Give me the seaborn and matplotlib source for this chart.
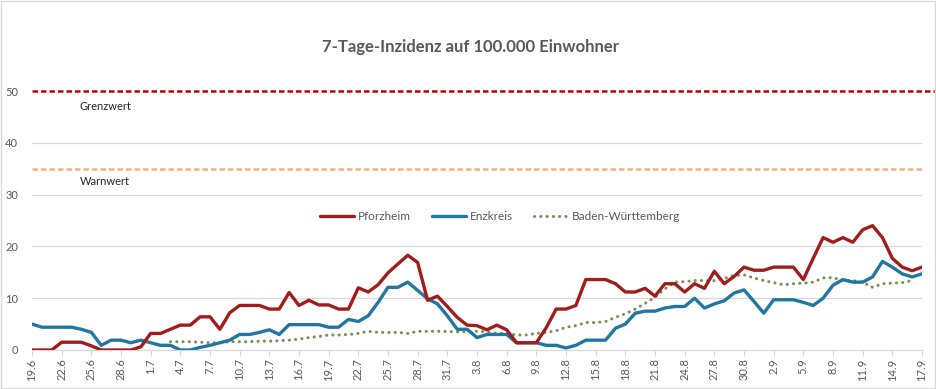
import numpy as np
import pandas as pd
import matplotlib
matplotlib.use("Agg")
import matplotlib.pyplot as plt
import seaborn as sns

tick_labels = ["19.6", "22.6", "25.6", "28.6", "1.7", "4.7", "7.7", "10.7", "13.7",
               "16.7", "19.7", "22.7", "25.7", "28.7", "31.7", "3.8", "6.8", "9.8",
               "12.8", "15.8", "18.8", "21.8", "24.8", "27.8", "30.8", "2.9", "5.9",
               "8.9", "11.9", "14.9", "17.9"]

pforzheim = [0, 0, 0, 1.5, 1.5, 1.5, 0.8, 0, 0, 0, 0, 0.6, 3.2, 3.2, 4.0, 4.8, 4.8, 6.4, 6.4, 4.0,
             7.2, 8.6, 8.6, 8.6, 7.9, 7.9, 11.1, 8.6, 9.6, 8.7, 8.7, 7.9, 7.9, 12.0, 11.2, 12.6,
             14.9, 16.6, 18.3, 16.9, 9.6, 10.4, 8.4, 6.3, 4.8, 4.7, 3.9, 4.8, 3.9, 1.4, 1.4, 1.4,
             4.3, 7.9, 7.9, 8.6, 13.6, 13.6, 13.6, 12.8, 11.2, 11.2, 11.9, 10.4, 12.8, 12.8, 11.2,
             12.8, 11.9, 15.2, 12.8, 14.2, 16.0, 15.4, 15.4, 16.0, 16.0, 16.0, 13.6, 17.7, 21.7,
             20.8, 21.7, 20.8, 23.2, 24.0, 21.7, 17.7, 16.0, 15.3, 16.0]

enzkreis = [5.0, 4.4, 4.4, 4.4, 4.4, 4.0, 3.4, 0.9, 1.9, 1.9, 1.4, 1.9, 1.4, 0.9, 0.9, 0, 0, 0.5,
            0.9, 1.4, 1.9, 3.0, 3.0, 3.4, 3.9, 3.0, 4.9, 4.9, 4.9, 4.9, 4.4, 4.4, 5.9, 5.5, 6.6,
            9.2, 12.1, 12.1, 13.1, 11.5, 9.9, 8.9, 6.6, 4.0, 4.0, 2.4, 3.0, 3.0, 3.0, 1.4, 1.4,
            1.4, 0.9, 0.9, 0.4, 0.9, 1.9, 1.9, 1.9, 4.2, 5.0, 7.1, 7.5, 7.5, 8.1, 8.4, 8.4, 10.0,
            8.1, 8.9, 9.5, 11.0, 11.6, 9.4, 7.1, 9.7, 9.7, 9.7, 9.2, 8.6, 10.0, 12.5, 13.6, 13.1,
            13.1, 14.1, 17.1, 16.0, 14.7, 14.1, 14.7]

nan = np.nan
baden_wuerttemberg = [nan] * 14 + [
    1.6, 1.6, 1.6, 1.5, 1.4, 1.4, 1.6, 1.6, 1.6, 1.7, 1.7, 1.8, 1.9, 2.1, 2.4, 2.6, 2.9, 2.9,
    3.0, 3.2, 3.6, 3.4, 3.4, 3.4, 3.2, 3.6, 3.6, 3.6, 3.6, 3.5, 3.5, 3.6, 3.5, 3.2, 3.2, 2.9,
    2.9, 3.2, 3.4, 3.7, 4.4, 4.7, 5.3, 5.3, 5.5, 6.3, 7.0, 7.9, 9.0, 10.2, 11.8, 13.1, 13.2,
    13.4, 13.4, 13.4, 13.8, 14.4, 14.5, 13.9, 13.4, 13.0, 12.6, 12.8, 12.9, 13.1, 13.9, 14.0,
    13.4, 13.4, 13.1, 12.1, 12.8, 12.9, 13.0, 13.4] + [nan]

grenzwert = 50
warnwert = 35

days = np.arange(len(pforzheim))
df = pd.DataFrame({"day": days, "Pforzheim": pforzheim, "Enzkreis": enzkreis,
                   "Baden-Württemberg": baden_wuerttemberg})

sns.set_theme(style="white")
plt.rcParams["font.family"] = ["Lato", "DejaVu Sans"]

fig = plt.figure(figsize=(9.37, 3.89), dpi=100)
ax = fig.add_axes([32 / 937, 1 - 350 / 389, 890 / 937, (350 - 91) / 389])

gray_text = "#595959"
grid_c = "#D9D9D9"

for y in [10, 20, 30, 40]:
    ax.axhline(y, color=grid_c, lw=0.9, zorder=0)

ax.hlines(grenzwert, 0, len(days) - 1 + 1.5, color="#C00000", lw=1.8, ls=(0, (2.2, 1.2)),
          zorder=1, clip_on=False)
ax.axhline(warnwert, color="#F4B183", lw=1.8, ls=(0, (2.2, 1.2)), zorder=1)

sns.lineplot(data=df, x="day", y="Pforzheim", ax=ax, color="#A11D1D", lw=2.4,
             label="Pforzheim", zorder=4)
sns.lineplot(data=df, x="day", y="Enzkreis", ax=ax, color="#2176A3", lw=2.4,
             label="Enzkreis", zorder=3)
sns.lineplot(data=df, x="day", y="Baden-Württemberg", ax=ax, color="#7D8F55", lw=2.2,
             label="Baden-Württemberg", zorder=2, ls=(0, (0.05, 2.0)),
             dash_capstyle="round")

ax.set_xlim(0, len(days) - 1)
ax.set_ylim(0, 50)
ax.set_xticks(days[::3])
ax.set_xticklabels(tick_labels, rotation=90, fontsize=8, color=gray_text)
ax.set_yticks([0, 10, 20, 30, 40, 50])
ax.set_yticklabels(["0", "10", "20", "30", "40", "50"], fontsize=8, color=gray_text)
ax.tick_params(axis="y", length=0, pad=10)
ax.tick_params(axis="x", length=4, width=0.8, color=grid_c, pad=2, direction="out", bottom=True)
ax.set_xlabel("")
ax.set_ylabel("")
for s in ["top", "right", "left"]:
    ax.spines[s].set_visible(False)
ax.spines["bottom"].set_color(grid_c)
ax.spines["bottom"].set_linewidth(0.9)

ax.text(4.85, 47.1, "Grenzwert", fontsize=8, color="#262626", va="center", ha="left")
ax.text(4.85, 32.6, "Warnwert", fontsize=8, color="#262626", va="center", ha="left")

leg = ax.legend(loc="center", bbox_to_anchor=(0.526, 0.515), ncol=3, frameon=False,
                fontsize=8.5, handlelength=2.9, columnspacing=1.8, handletextpad=0.3)
for t in leg.get_texts():
    t.set_color(gray_text)

fig.text(470 / 937, 1 - 47 / 389, "7-Tage-Inzidenz auf 100.000 Einwohner", ha="center",
         va="center", fontsize=12, fontweight="bold", color=gray_text)

fig.patches.append(plt.Rectangle((0.001, 0.002), 0.997, 0.995, transform=fig.transFigure,
                                 fill=False, edgecolor=grid_c, lw=1))

fig.savefig("out.png", dpi=100)
